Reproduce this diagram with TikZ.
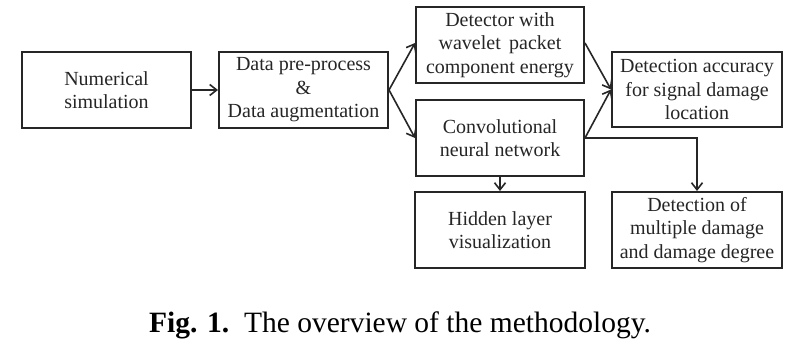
\documentclass[tikz,border=0pt]{standalone}
\usepackage{fontspec}
\setmainfont{Liberation Serif}
\usetikzlibrary{arrows.meta}
\begin{document}
\begin{tikzpicture}[x=1pt,y=-1pt,
  box/.style={draw=black!85, line width=2pt, rectangle, align=center, inner sep=0pt,
    text=black!85, font=\fontsize{20}{23.5}\selectfont},
  conn/.style={draw=black!85, line width=1.6pt, -{Straight Barb[length=7pt,width=11pt,line width=1.6pt]}}]
\useasboundingbox (0,0) rectangle (800,352);
\fill[white] (0,0) rectangle (800,352);
\node[box, minimum width=169pt, minimum height=76pt] (ns) at (106.5,90) {Numerical\\simulation};
\node[box, minimum width=169pt, minimum height=76pt] (dp) at (303.5,90) {Data pre-process\\\&\\Data augmentation};
\node[box, minimum width=168pt, minimum height=76pt] (det) at (500,45) {Detector with\\wavelet\, packet\\component energy};
\node[box, minimum width=168pt, minimum height=76pt] (cnn) at (500,138) {Convolutional\\neural network};
\node[box, minimum width=170pt, minimum height=75pt] (acc) at (697,89.5) {Detection accuracy\\for signal damage\\location};
\node[box, minimum width=170pt, minimum height=76pt] (hid) at (500,230) {Hidden layer\\visualization};
\node[box, minimum width=170pt, minimum height=76pt] (mul) at (697,230) {Detection of\\multiple damage\\and damage degree};
\draw[conn] (ns.east) -- (dp.west);
\draw[conn] (dp.east) -- ([yshift=2pt]det.west);
\draw[conn] (dp.east) -- (cnn.west);
\draw[conn] ([yshift=2pt]det.east) -- (acc.west);
\draw[conn] (cnn.east) -- (acc.west);
\draw[conn] (cnn.south) -- (hid.north);
\draw[conn] (cnn.east) -| (mul.north);
\node[font=\fontsize{29.5}{34}\selectfont, text=black, inner sep=0pt] (cap) at (400,325) {\textbf{Fig. 1.}\ \ The overview of the methodology.};
\end{tikzpicture}
\end{document}
